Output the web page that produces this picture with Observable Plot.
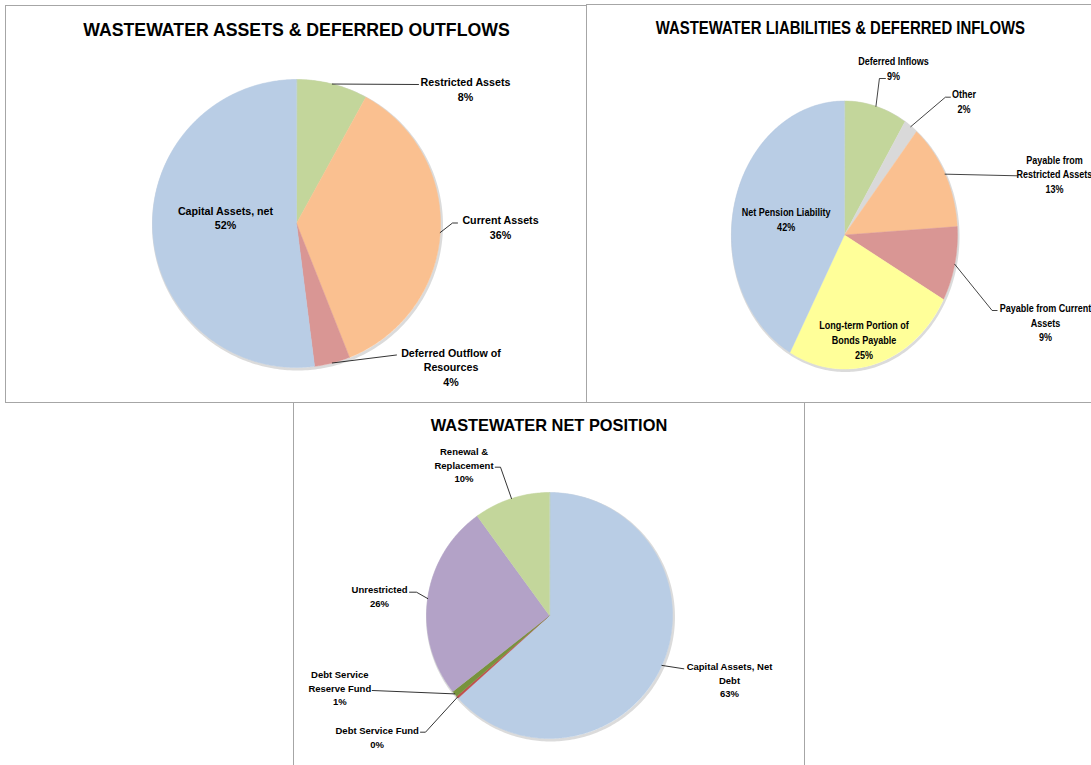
<!DOCTYPE html>
<html><head><meta charset="utf-8">
<script src="https://cdn.jsdelivr.net/npm/d3@7"></script>
<script src="https://cdn.jsdelivr.net/npm/@observablehq/plot@0.6"></script>
<style>
html,body{margin:0;padding:0;background:#fff;overflow:hidden;width:1091px;height:765px;}
.box{position:absolute;box-sizing:border-box;border:1px solid #a6a6a6;overflow:hidden;background:#fff;}
</style></head><body>
<div id="c1" class="box" style="left:5px;top:5px;width:582px;height:398px"></div>
<div id="c2" class="box" style="left:586px;top:4px;width:520px;height:399px"></div>
<div id="c3" class="box" style="left:293px;top:402px;width:512px;height:380px"></div>
<script>
const FONT = "'Liberation Sans', Arial, Helvetica, sans-serif";

// ---- Chart 1: assets & deferred outflows ----
const assetCategories = ["Restricted Assets", "Current Assets", "Deferred Outflow of Resources", "Capital Assets, net"];
const assetValues = [8, 36, 4, 52];
const assetLabelText = ["Restricted Assets", "Current Assets", "Deferred Outflow of\nResources", "Capital Assets, net"];
const assetColors = ["#c3d69b", "#fac090", "#d99694", "#b9cde5"];

// ---- Chart 2: liabilities & deferred inflows ----
const liabilityCategories = ["Deferred Inflows", "Other", "Payable from Restricted Assets", "Payable from Current Assets", "Long-term Portion of Bonds Payable", "Net Pension Liability"];
const liabilityValues = [9, 2, 13, 9, 25, 42];
const liabilityLabelText = ["Deferred Inflows", "Other", "Payable from\nRestricted Assets", "Payable from Current\nAssets", "Long-term Portion of\nBonds Payable", "Net Pension Liability"];
const liabilityColors = ["#c3d69b", "#d9d9d9", "#fac090", "#d99694", "#ffff99", "#b9cde5"];

// ---- Chart 3: net position ----
const netCategories = ["Capital Assets, Net Debt", "Debt Service Fund", "Debt Service Reserve Fund", "Unrestricted", "Renewal & Replacement"];
const netValues = [63.3, 0.3, 0.8, 25.6, 10.0];
const netLabelText = ["Capital Assets, Net\nDebt", "Debt Service Fund", "Debt Service\nReserve Fund", "Unrestricted", "Renewal &\nReplacement"];
const netColors = ["#b9cde5", "#c0504d", "#77933c", "#b3a2c7", "#c3d69b"];

// ---- label layout (page pixels): label block centre and leader elbows ----
const assetLayout = [
  {label: [465, 88.5], leader: [[418, 84]]},
  {label: [500, 226], leader: [[452, 222.5], [457, 222.5]]},
  {label: [450.5, 366], leader: [[396, 354.5]]},
  {label: [225, 216.7], leader: []}
];
const liabilityLayout = [
  {label: [893, 67.2], leader: [[879, 78], [885, 78]]},
  {label: [963.5, 100.5], leader: [[945, 96.7], [950, 96.7]]},
  {label: [1054, 173], leader: [[1016.7, 175.3]]},
  {label: [1045, 321.5], leader: [[991.7, 310], [996.7, 310]]},
  {label: [863.5, 338.7], leader: []},
  {label: [785.7, 218], leader: []}
];
const netLayout = [
  {label: [729, 679], leader: [[683.3, 668.3]]},
  {label: [376.7, 736.3], leader: [[425, 731.7], [420, 731.7]]},
  {label: [339.3, 687], leader: [[371.7, 690]]},
  {label: [379, 595], leader: [[416, 591.7], [409, 591.7]]},
  {label: [463.5, 464], leader: [[500, 466.7], [494.7, 466.7]]}
];

function drawPie(id, cfg) {
  const {categories, values, colors, labelText, layout, cx, cy, rx, ry, ox, oy, width, height,
         fontSize, lineHeight, title, tx, ty, titleSize} = cfg;
  const s = rx / ry;
  const total = d3.sum(values);
  let acc = 0;
  const slices = categories.map((cat, i) => {
    const a0 = acc / total * 2 * Math.PI; acc += values[i];
    const a1 = acc / total * 2 * Math.PI;
    return {cat, i, a0, a1, mid: (a0 + a1) / 2, pct: Math.round(values[i] / total * 100)};
  });
  const poly = [];
  slices.forEach(sl => {
    poly.push({cat: sl.cat, x: 0, y: 0});
    const n = Math.max(2, Math.ceil((sl.a1 - sl.a0) / (Math.PI / 360)));
    for (let k = 0; k <= n; k++) {
      const a = sl.a0 + (sl.a1 - sl.a0) * k / n;
      poly.push({cat: sl.cat, x: Math.sin(a), y: Math.cos(a)});
    }
  });
  const ring = d3.range(0, 361, 1).map(d => ({x: Math.sin(d * Math.PI / 180), y: Math.cos(d * Math.PI / 180)}));
  const toData = ([X, Y]) => [(X - cx) / rx, -(Y - cy) / ry];
  const labels = slices.map(sl => {
    const [x, y] = toData(layout[sl.i].label);
    return {x, y, text: labelText[sl.i] + "\n" + sl.pct + "%"};
  });
  const leaders = [];
  slices.forEach(sl => {
    const pts = layout[sl.i].leader;
    if (!pts.length) return;
    leaders.push({cat: sl.cat, x: Math.sin(sl.mid), y: Math.cos(sl.mid)});
    pts.forEach(p => { const [x, y] = toData(p); leaders.push({cat: sl.cat, x, y}); });
  });
  const cxL = (cx - ox) / s, cyL = cy - oy, r = ry;
  const plot = Plot.plot({
    width, height, margin: 0,
    x: {domain: [-1, 1], range: [cxL - r, cxL + r], axis: null},
    y: {domain: [-1, 1], range: [cyL + r, cyL - r], axis: null},
    color: {domain: categories, range: colors},
    style: {fontFamily: FONT, background: "transparent", color: "black"},
    marks: [
      Plot.line(ring, {x: "x", y: "y", stroke: "#000", strokeOpacity: 0.14, strokeWidth: 3, dx: 1, dy: 1.5}),
      Plot.line(poly, {x: "x", y: "y", z: "cat", fill: "cat", stroke: "cat", strokeWidth: 0.5, curve: "linear-closed"}),
      Plot.line(leaders, {x: "x", y: "y", z: "cat", stroke: "black", strokeWidth: 0.8}),
      Plot.text(labels, {x: "x", y: "y", text: "text", fontSize, fontWeight: "bold", lineHeight, fill: "black", fontFamily: FONT}),
      Plot.text([title], {frameAnchor: "top-left", dx: (tx - ox) / s, dy: ty - oy, text: d => d,
        textAnchor: "middle", lineAnchor: "middle", fontSize: titleSize, fontWeight: "bold", fill: "black", fontFamily: FONT})
    ]
  });
  plot.style.position = "absolute";
  plot.style.left = "0px";
  plot.style.top = "0px";
  plot.style.maxWidth = "none";
  plot.style.transformOrigin = "0 0";
  plot.style.transform = `scaleX(${s})`;
  document.getElementById(id).appendChild(plot);
}

drawPie("c1", {categories: assetCategories, values: assetValues, colors: assetColors, labelText: assetLabelText,
  layout: assetLayout, cx: 296, cy: 223, rx: 144, ry: 144, ox: 6, oy: 6, width: 580, height: 396,
  fontSize: 10.7, lineHeight: 1.37, title: "WASTEWATER ASSETS & DEFERRED OUTFLOWS", tx: 296, ty: 30.3, titleSize: 17.7});

drawPie("c2", {categories: liabilityCategories, values: liabilityValues, colors: liabilityColors, labelText: liabilityLabelText,
  layout: liabilityLayout, cx: 844, cy: 234.5, rx: 113, ry: 134, ox: 587, oy: 5, width: 620, height: 397,
  fontSize: 10.7, lineHeight: 1.37, title: "WASTEWATER LIABILITIES & DEFERRED INFLOWS", tx: 840, ty: 27.6, titleSize: 17.7});

drawPie("c3", {categories: netCategories, values: netValues, colors: netColors, labelText: netLabelText,
  layout: netLayout, cx: 549, cy: 615, rx: 123, ry: 123, ox: 294, oy: 403, width: 510, height: 362,
  fontSize: 9.5, lineHeight: 1.43, title: "WASTEWATER NET POSITION", tx: 548.5, ty: 425.4, titleSize: 16.4});
</script>
</body></html>
